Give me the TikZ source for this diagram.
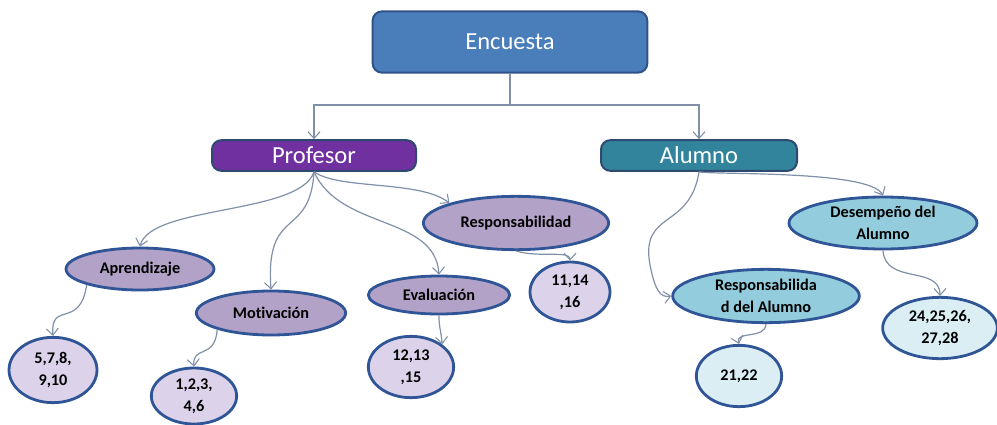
\documentclass[tikz,border=0pt]{standalone}
\usepackage{fontspec}
\setmainfont[Ligatures=NoCommon]{Carlito}
\usetikzlibrary{shapes.geometric,arrows.meta}
\definecolor{topblue}{HTML}{4A7EBB}
\definecolor{topedge}{HTML}{2F5387}
\definecolor{profpurple}{HTML}{7030A0}
\definecolor{alumteal}{HTML}{31849B}
\definecolor{boxedge}{HTML}{2E4A70}
\definecolor{lavender}{HTML}{B3A2C7}
\definecolor{lavlight}{HTML}{DCD3EA}
\definecolor{skyblue}{HTML}{93CDDD}
\definecolor{skylight}{HTML}{DAEEF3}
\definecolor{ovaledge}{HTML}{2F5597}
\definecolor{linkgray}{HTML}{7F90A8}
\tikzset{
  headbox/.style={draw=#1, line width=1.5pt, rounded corners=7pt, text=white,
    font=\fontsize{18.4}{20}\selectfont, inner sep=0pt},
  oval/.style={ellipse, draw=ovaledge, line width=2.1pt, inner sep=0pt, align=center,
    font=\bfseries\fontsize{12.2}{16.5}\selectfont},
  link/.style={draw=linkgray, line width=0.9pt,
    -{Straight Barb[length=5pt,width=9pt,line width=0.8pt]}},
  plain/.style={draw=linkgray, line width=0.9pt}
}
\begin{document}
\begin{tikzpicture}[x=0.75pt,y=-0.75pt]
\useasboundingbox (0,0) rectangle (997,425);

% top level
\node[headbox=topedge, fill=topblue, minimum width=206pt, minimum height=46pt]
  (enc) at (510,42) {Encuesta};
\node[headbox=boxedge, fill=profpurple, minimum width=153pt, minimum height=23pt]
  (prof) at (314,155.5) {Profesor};
\node[headbox=boxedge, fill=alumteal, minimum width=147pt, minimum height=23pt]
  (alum) at (699,155.5) {Alumno};

% elbow connector
\coordinate (split) at (510,105);
\draw[plain] (enc.south) -- (split);
\draw[link] (split) -| (prof.north);
\draw[link] (split) -| (alum.north);

% Profesor branch
\node[oval, fill=lavender, minimum width=111pt, minimum height=31.5pt] (apr) at (140,269) {Aprendizaje};
\node[oval, fill=lavender, minimum width=112pt, minimum height=33pt] (mot) at (271,313) {Motivación};
\node[oval, fill=lavender, minimum width=106pt, minimum height=28.5pt] (eva) at (439,295) {Evaluación};
\node[oval, fill=lavender, minimum width=139pt, minimum height=40pt] (res) at (516,223) {Responsabilidad};
\node[oval, fill=lavlight, minimum width=66pt, minimum height=49pt] (n1) at (53,370) {5,7,8,\\9,10};
\node[oval, fill=lavlight, minimum width=64pt, minimum height=42pt] (n2) at (194,396) {1,2,3,\\4,6};
\node[oval, fill=lavlight, minimum width=64pt, minimum height=46pt] (n3) at (411,367) {12,13\\,15};
\node[oval, fill=lavlight, minimum width=60pt, minimum height=45pt] (n4) at (570,292) {11,14\\,16};

% Alumno branch
\node[oval, fill=skyblue, minimum width=141pt, minimum height=39pt] (des) at (883,223) {Desempeño del\\Alumno};
\node[oval, fill=skyblue, minimum width=140pt, minimum height=40pt] (resa) at (766,296) {Responsabilida\\d del Alumno};
\node[oval, fill=skylight, minimum width=64pt, minimum height=46pt] (n5) at (739,376) {21,22};
\node[oval, fill=skylight, minimum width=86pt, minimum height=46pt] (n6) at (940,328) {24,25,26,\\27,28};

% curved connectors
\draw[link] (prof.south) .. controls (300,215) and (150,205) .. (apr.north);
\draw[link] (prof.south) .. controls (310,240) and (265,205) .. (mot.north);
\draw[link] (prof.south) .. controls (340,230) and (435,215) .. (eva.north);
\draw[link] (prof.south) .. controls (340,190) and (420,180) .. (res.north west);
\draw[link] (apr.south west) .. controls (80,330) and (50,300) .. (n1.north);
\draw[link] (mot.south west) .. controls (215,360) and (192,345) .. (n2.north);
\draw[link] (eva.south) .. controls (439,328) and (441,330) .. (n3.36);
\draw[link] (res.south) .. controls (540,258) and (570,250) .. (n4.north);
\draw[link] (alum.south) .. controls (715,175) and (870,170) .. (des.north);
\draw[link] (alum.south) .. controls (690,230) and (640,210) .. (650,265)
  .. controls (655,290) and (660,298) .. (resa.west);
\draw[link] (resa.south) .. controls (765,340) and (735,330) .. (n5.north);
\draw[link] (des.south) .. controls (885,285) and (940,265) .. (n6.north);
\end{tikzpicture}
\end{document}
